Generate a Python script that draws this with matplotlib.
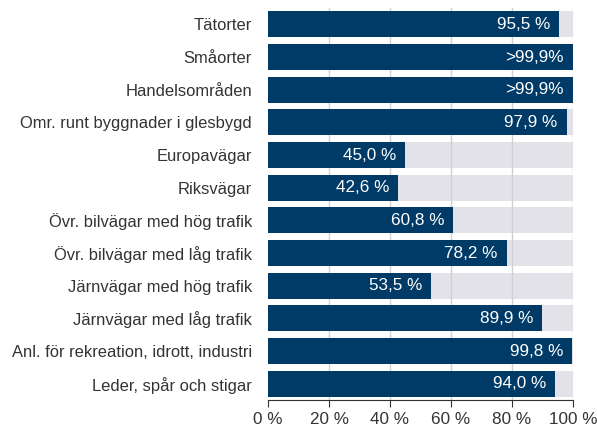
import matplotlib
matplotlib.use("Agg")
import matplotlib.pyplot as plt

categories = ["Tätorter", "Småorter", "Handelsområden", "Omr. runt byggnader i glesbygd",
              "Europavägar", "Riksvägar", "Övr. bilvägar med hög trafik",
              "Övr. bilvägar med låg trafik", "Järnvägar med hög trafik",
              "Järnvägar med låg trafik", "Anl. för rekreation, idrott, industri",
              "Leder, spår och stigar"]
values = [95.5, 99.95, 99.95, 97.9, 45.0, 42.6, 60.8, 78.2, 53.5, 89.9, 99.8, 94.0]
labels = ["95,5 %", ">99,9%", ">99,9%", "97,9 %", "45,0 %", "42,6 %", "60,8 %",
          "78,2 %", "53,5 %", "89,9 %", "99,8 %", "94,0 %"]
xticks = [0, 20, 40, 60, 80, 100]
xticklabels = ["0 %", "20 %", "40 %", "60 %", "80 %", "100 %"]

plt.rcParams['font.family'] = ['Liberation Sans', 'DejaVu Sans']
fs = 12.3
fig = plt.figure(figsize=(5.97, 4.28), dpi=100)
ax = fig.add_axes([268/597, 1-400/428, (573-268)/597, 392/428])

y = list(range(len(categories)))
navy = "#003a66"
grey = "#e2e2e8"
ax.barh(y, [100]*len(y), height=0.79, color=grey, zorder=1)
ax.barh(y, values, height=0.79, color=navy, zorder=3)
for yi, v, lab in zip(y, values, labels):
    ax.text(v - 2.9, yi, lab, ha="right", va="center", color="white", fontsize=fs, zorder=4)

ax.set_xlim(0, 100)
ax.set_ylim(len(y) - 0.5, -0.5)
ax.set_yticks(y)
ax.set_yticklabels(categories, fontsize=11.9, color="#333333")
ax.set_xticks(xticks)
ax.set_xticklabels(xticklabels, fontsize=fs, color="#333333")
ax.tick_params(axis="y", length=0, pad=11.5)
ax.tick_params(axis="x", length=5, color="#333333", pad=4)
for x in xticks[1:]:
    ax.axvline(x, color="#d0d0d0", lw=1, zorder=2)
for s in ["top", "right", "left"]:
    ax.spines[s].set_visible(False)
ax.spines["bottom"].set_color("#333333")
fig.savefig("out.png", dpi=100)
